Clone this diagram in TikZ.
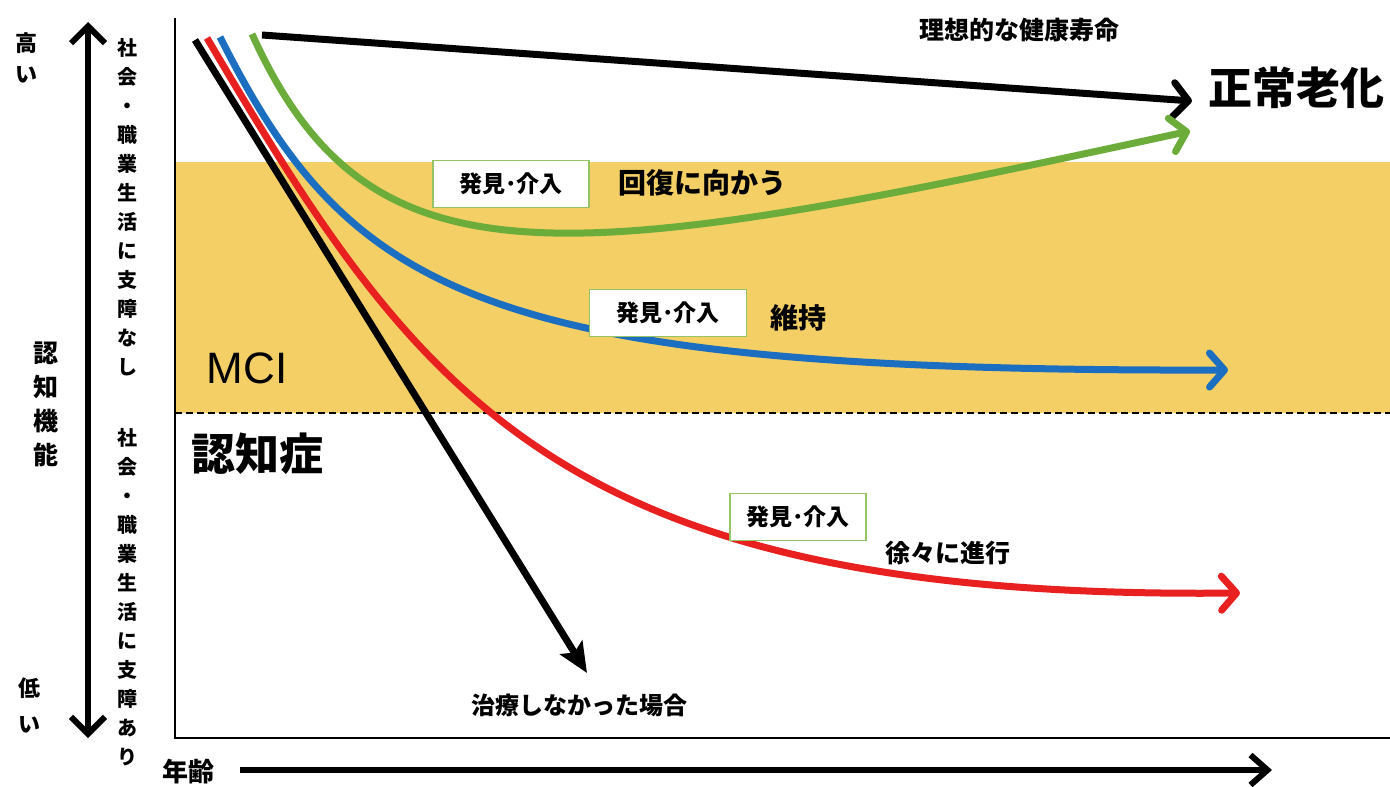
\documentclass[tikz,border=0pt]{standalone}
\usepackage{fontspec}
\setmainfont{Noto Sans CJK JP}
\newfontfamily\latinsans{Liberation Sans}
\usetikzlibrary{arrows.meta,positioning}
\definecolor{mciband}{RGB}{243,207,102}
\definecolor{cred}{RGB}{232,32,32}
\definecolor{cblue}{RGB}{28,110,192}
\definecolor{cgreen}{RGB}{108,172,58}
\definecolor{tagline}{RGB}{150,195,100}

\begin{document}
\begin{tikzpicture}[x=1pt,y=-1pt,
  trend/.style={line width=7pt,-{Straight Barb[length=15pt,width=34pt,round]}},
  drop/.style={line width=7pt,-{Stealth[length=30pt,width=26pt,inset=6pt]}},
  axis/.style={line width=6pt},
  tag/.style={draw=tagline,line width=1.5pt,fill=white,minimum height=47pt,inner sep=0pt,
    font=\fontsize{23}{23}\selectfont\bfseries},
  lbl/.style={inner sep=0pt,font=\fontsize{#1}{#1}\selectfont\bfseries},
  vtext/.style={inner sep=0pt,align=center,font=\fontsize{20}{29}\selectfont\bfseries}]
\useasboundingbox (0,0) rectangle (1390,787);
\fill[mciband] (175,162) rectangle (1390,413);
\draw[line width=1.5pt,dash pattern=on 7pt off 4pt] (175,413) -- (1390,413);
\draw[line width=2.5pt] (175,18) -- (175,738) -- (1390,738);

\coordinate (hi) at (88,22);
\coordinate (lo) at (88,738);
\coordinate (ageS) at (240,770);
\coordinate (ageE) at (1272,770);
\draw[axis,{Straight Barb[length=17pt,width=34pt]}-{Straight Barb[length=17pt,width=34pt]}] (hi) -- (lo);
\draw[axis,-{Straight Barb[length=17pt,width=30pt]}] (ageS) -- (ageE);

\node[inner sep=0pt,align=center,font=\fontsize{22}{31}\selectfont\bfseries] (high) at (26,58) {高\\い};
\node[inner sep=0pt,align=center,font=\fontsize{25}{34}\selectfont\bfseries] (func) at (46,404) {認\\知\\機\\能};
\node[inner sep=0pt,align=center,font=\fontsize{22}{36}\selectfont\bfseries] (low) at (29,705) {低\\い};
\node[vtext] (ok) at (127,207) {社\\会\\・\\職\\業\\生\\活\\に\\支\\障\\な\\し};
\node[vtext] (ng) at (127,597) {社\\会\\・\\職\\業\\生\\活\\に\\支\\障\\あ\\り};
\node[lbl=26] (age) at (188,772) {年齢};

\node[inner sep=0pt,font=\fontsize{44}{44}\selectfont\latinsans] (mci) at (247,368) {MCI};
\node[lbl=44] (dem) at (257,454) {認知症};

\coordinate (blkS) at (195,40);
\coordinate (blkE) at (587,673);
\coordinate (redS) at (207,38);
\coordinate (redE) at (1240,593);
\coordinate (bluS) at (220,37);
\coordinate (bluE) at (1228,370);
\coordinate (grnS) at (252,34);
\coordinate (grnE) at (1190,131);
\coordinate (topS) at (262,35);
\coordinate (topE) at (1192,101);

\draw[trend] (topS) -- (topE);
\draw[trend,cgreen] (grnS) .. controls (370,295) and (560,268) .. (grnE);
\draw[trend,cblue] (bluS) .. controls (350,295) and (480,372) .. (bluE);
\draw[trend,cred] (redS) .. controls (420,400) and (560,600) .. (redE);
\draw[drop] (blkS) -- (blkE);

\node[tag,minimum width=156pt] (find1) at (511,184) {発見･介入};
\node[lbl=28] (recover) at (702,183) {回復に向かう};
\node[tag,minimum width=157pt] (find2) at (668,313) {発見･介入};
\node[lbl=28] (keep) at (798,318) {維持};
\node[tag,minimum width=136pt] (find3) at (798,517) {発見･介入};
\node[lbl=25] (slow) at (948,553) {徐々に進行};

\node[lbl=25] (ideal) at (1019,30) {理想的な健康寿命};
\node[lbl=44] (normal) at (1296,88) {正常老化};
\node[lbl=24] (untreated) at (579,705) {治療しなかった場合};
\end{tikzpicture}
\end{document}
